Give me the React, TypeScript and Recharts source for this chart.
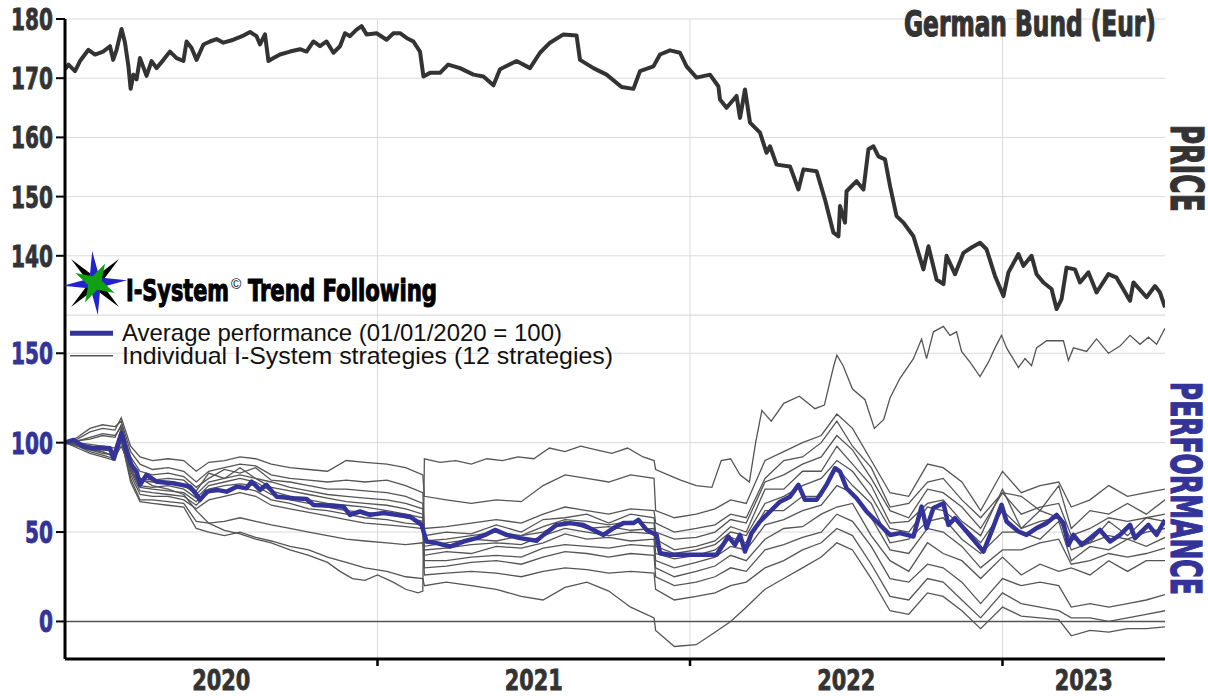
import React from 'react';
import { LineChart, Line, XAxis, YAxis, CartesianGrid, ReferenceLine } from 'recharts';

// ---------- DATA ----------
// German Bund price: [date as decimal year, price]
const priceSeries: [number, number][] = [
  [2020.000, 171.5], [2020.011, 172.3], [2020.032, 171.2], [2020.048, 172.9], [2020.075, 174.8],
  [2020.096, 174.0], [2020.122, 174.5], [2020.144, 175.4], [2020.154, 173.1], [2020.165, 174.8],
  [2020.181, 178.3], [2020.192, 176.0], [2020.203, 172.0], [2020.210, 168.2], [2020.219, 170.6],
  [2020.229, 169.8], [2020.240, 173.4], [2020.261, 170.4], [2020.277, 172.9], [2020.293, 171.7],
  [2020.315, 173.1], [2020.336, 174.5], [2020.357, 173.4], [2020.379, 172.9], [2020.389, 176.2],
  [2020.405, 175.1], [2020.421, 173.1], [2020.443, 175.7], [2020.464, 176.2], [2020.485, 176.6],
  [2020.507, 176.0], [2020.539, 176.5], [2020.571, 177.2], [2020.592, 177.8], [2020.613, 177.1],
  [2020.624, 175.7], [2020.640, 177.4], [2020.651, 172.9], [2020.667, 173.4], [2020.688, 174.0],
  [2020.720, 174.5], [2020.752, 174.9], [2020.773, 174.5], [2020.795, 176.2], [2020.816, 175.4],
  [2020.837, 176.2], [2020.859, 174.3], [2020.880, 175.4], [2020.896, 177.6], [2020.912, 177.1],
  [2020.933, 178.2], [2020.949, 178.8], [2020.965, 177.4], [2020.997, 177.6], [2021.029, 176.5],
  [2021.051, 177.6], [2021.072, 177.6], [2021.093, 176.8], [2021.115, 176.2], [2021.136, 174.5],
  [2021.147, 170.3], [2021.168, 170.9], [2021.200, 170.9], [2021.226, 172.3], [2021.264, 171.7],
  [2021.307, 170.6], [2021.339, 170.3], [2021.371, 168.8], [2021.392, 171.5], [2021.445, 172.9],
  [2021.488, 171.7], [2021.520, 174.3], [2021.552, 176.0], [2021.595, 177.4], [2021.637, 177.2],
  [2021.648, 173.1], [2021.691, 171.7], [2021.733, 170.6], [2021.781, 168.5], [2021.819, 168.2],
  [2021.840, 171.2], [2021.883, 172.0], [2021.904, 174.0], [2021.936, 174.7], [2021.968, 174.3],
  [2021.989, 172.0], [2022.021, 170.1], [2022.064, 170.6], [2022.091, 168.6], [2022.096, 166.4],
  [2022.117, 165.0], [2022.149, 167.0], [2022.160, 163.3], [2022.176, 168.1], [2022.192, 162.5],
  [2022.224, 160.8], [2022.245, 157.4], [2022.256, 158.5], [2022.277, 155.4], [2022.320, 155.1],
  [2022.347, 151.2], [2022.363, 154.6], [2022.405, 154.3], [2022.432, 149.5], [2022.459, 143.9],
  [2022.475, 143.3], [2022.480, 148.4], [2022.496, 145.6], [2022.501, 150.9], [2022.533, 152.6],
  [2022.555, 151.2], [2022.571, 158.0], [2022.587, 158.5], [2022.603, 156.8], [2022.624, 156.3],
  [2022.640, 151.8], [2022.661, 146.7], [2022.683, 145.6], [2022.715, 143.3], [2022.747, 137.7],
  [2022.763, 141.6], [2022.789, 136.0], [2022.811, 135.2], [2022.821, 140.0], [2022.848, 136.9],
  [2022.875, 140.5], [2022.901, 141.4], [2022.928, 142.2], [2022.949, 141.1], [2022.976, 136.6],
  [2023.003, 133.2], [2023.019, 137.2], [2023.051, 140.3], [2023.067, 138.3], [2023.093, 140.0],
  [2023.109, 136.9], [2023.131, 135.5], [2023.157, 134.4], [2023.173, 131.0], [2023.189, 132.7],
  [2023.205, 138.0], [2023.232, 137.7], [2023.248, 135.5], [2023.275, 137.2], [2023.301, 133.8],
  [2023.339, 136.9], [2023.365, 136.3], [2023.408, 132.4], [2023.419, 135.5], [2023.461, 133.0],
  [2023.488, 134.9], [2023.504, 133.8], [2023.520, 131.3],
];

// Average performance (01/01/2020 = 100)
const averagePerformance: [number, number][] = [
  [2020.000, 100], [2020.027, 101.5], [2020.059, 97.8], [2020.091, 96.9], [2020.123, 97.2],
  [2020.144, 96.9], [2020.155, 91.3], [2020.171, 99.7], [2020.181, 105.3], [2020.197, 95.0],
  [2020.213, 87.5], [2020.229, 83.8], [2020.240, 76.4], [2020.261, 82.0], [2020.293, 78.2],
  [2020.347, 77.3], [2020.400, 75.4], [2020.421, 70.8], [2020.432, 68.0], [2020.453, 72.6],
  [2020.485, 73.6], [2020.517, 72.6], [2020.549, 75.4], [2020.581, 74.5], [2020.597, 78.2],
  [2020.624, 73.6], [2020.645, 76.4], [2020.677, 69.8], [2020.731, 68.9], [2020.773, 68.5],
  [2020.795, 65.2], [2020.837, 64.8], [2020.891, 64.2], [2020.912, 59.6], [2020.944, 61.5],
  [2020.976, 59.6], [2021.019, 60.6], [2021.061, 59.6], [2021.104, 58.7], [2021.141, 54.0],
  [2021.157, 44.7], [2021.189, 43.8], [2021.232, 41.9], [2021.275, 44.7], [2021.317, 46.6],
  [2021.344, 48.4], [2021.376, 51.2], [2021.413, 48.4], [2021.456, 46.6], [2021.509, 45.1],
  [2021.531, 48.4], [2021.573, 54.0], [2021.616, 55.0], [2021.659, 54.0], [2021.691, 51.2],
  [2021.723, 48.4], [2021.755, 52.2], [2021.787, 55.0], [2021.819, 55.0], [2021.835, 56.8],
  [2021.861, 51.2], [2021.893, 48.4], [2021.904, 38.2], [2021.936, 37.3], [2022.085, 37.3],
  [2022.123, 47.5], [2022.144, 42.8], [2022.160, 48.4], [2022.176, 39.1], [2022.197, 49.4],
  [2022.224, 55.9], [2022.256, 61.5], [2022.288, 67.0], [2022.320, 69.8], [2022.347, 76.4],
  [2022.368, 68.0], [2022.405, 68.0], [2022.437, 76.4], [2022.464, 85.7], [2022.480, 83.8],
  [2022.501, 74.5], [2022.533, 68.9], [2022.565, 61.5], [2022.597, 55.9], [2022.640, 48.4],
  [2022.672, 49.4], [2022.715, 47.5], [2022.741, 64.2], [2022.757, 52.2], [2022.779, 63.4],
  [2022.811, 66.1], [2022.827, 54.0], [2022.848, 57.8], [2022.885, 50.3], [2022.939, 39.1],
  [2022.965, 50.3], [2022.997, 65.2], [2023.013, 55.9], [2023.051, 50.3], [2023.077, 48.4],
  [2023.109, 52.2], [2023.141, 55.0], [2023.173, 59.6], [2023.195, 55.0], [2023.211, 42.8],
  [2023.227, 48.4], [2023.253, 42.8], [2023.280, 46.6], [2023.312, 51.2], [2023.344, 44.7],
  [2023.376, 48.4], [2023.408, 54.0], [2023.424, 46.6], [2023.467, 54.0], [2023.493, 48.4],
  [2023.520, 56.8],
];

// Strategy 1 (the one that jumps in early 2021 and ends on top)
const strategy1: [number, number][] = [
  [2020.00, 100], [2020.04, 99], [2020.08, 96], [2020.12, 95], [2020.16, 92], [2020.18, 98],
  [2020.21, 86], [2020.24, 80], [2020.28, 76], [2020.33, 74], [2020.38, 71], [2020.42, 62],
  [2020.46, 55], [2020.51, 51], [2020.56, 49], [2020.61, 46], [2020.66, 44], [2020.72, 40],
  [2020.78, 37], [2020.84, 33], [2020.88, 28], [2020.92, 24], [2020.96, 23], [2021.00, 26],
  [2021.05, 22], [2021.09, 18], [2021.13, 16], [2021.145, 17], [2021.15, 91], [2021.20, 89],
  [2021.25, 90], [2021.30, 88], [2021.35, 91], [2021.40, 90], [2021.45, 92], [2021.50, 91],
  [2021.55, 97], [2021.60, 95], [2021.65, 98], [2021.70, 96], [2021.75, 94], [2021.80, 97],
  [2021.85, 92], [2021.885, 90], [2021.89, 85], [2021.93, 82], [2021.97, 79], [2022.02, 76],
  [2022.07, 75], [2022.10, 90], [2022.13, 91], [2022.16, 82], [2022.19, 78], [2022.21, 100],
  [2022.23, 118], [2022.26, 112], [2022.30, 122], [2022.35, 126], [2022.40, 119], [2022.43, 121],
  [2022.46, 143], [2022.47, 149], [2022.49, 143], [2022.52, 130], [2022.56, 124], [2022.59, 108],
  [2022.62, 113], [2022.64, 125], [2022.672, 136], [2022.715, 147], [2022.741, 158], [2022.757, 147],
  [2022.779, 162], [2022.811, 165], [2022.832, 160], [2022.853, 162], [2022.869, 151], [2022.896, 145],
  [2022.928, 137], [2022.955, 145], [2022.976, 153], [2022.997, 160], [2023.013, 153], [2023.051, 142],
  [2023.072, 147], [2023.093, 143], [2023.109, 153], [2023.141, 157], [2023.195, 157], [2023.211, 146],
  [2023.227, 153], [2023.269, 151], [2023.301, 158], [2023.339, 150], [2023.376, 154], [2023.408, 160],
  [2023.440, 155], [2023.467, 159], [2023.493, 155], [2023.520, 164],
];

// Shared dates for strategies 2..12
const stratDates = [
  2020.00, 2020.04, 2020.08, 2020.12, 2020.16, 2020.18, 2020.21, 2020.24, 2020.28, 2020.33,
  2020.38, 2020.42, 2020.46, 2020.51, 2020.56, 2020.61, 2020.66, 2020.72, 2020.78, 2020.84,
  2020.90, 2020.96, 2021.03, 2021.09, 2021.145, 2021.15, 2021.22, 2021.30, 2021.38, 2021.46,
  2021.53, 2021.60, 2021.67, 2021.74, 2021.81, 2021.885, 2021.89, 2021.95, 2022.02, 2022.08,
  2022.13, 2022.18, 2022.24, 2022.30, 2022.36, 2022.42, 2022.47, 2022.52, 2022.58, 2022.64,
  2022.70, 2022.76, 2022.81, 2022.87, 2022.93, 2023.00, 2023.06, 2023.12, 2023.18, 2023.22,
  2023.28, 2023.34, 2023.40, 2023.46, 2023.52,
];
const strategy2 = [100, 102, 106, 108, 107, 114, 98, 92, 90, 91, 90, 84, 89, 90, 92, 91, 88, 86, 85, 84, 90, 89, 88, 86, 82, 70, 68, 66, 68, 67, 76, 82, 80, 78, 82, 80, 62, 58, 60, 63, 68, 66, 90, 95, 100, 104, 116, 108, 90, 72, 70, 88, 86, 78, 62, 84, 72, 76, 78, 64, 68, 76, 70, 72, 74];
const strategy3 = [100, 103, 108, 110, 109, 112, 95, 88, 85, 86, 84, 78, 84, 86, 88, 87, 82, 80, 79, 78, 79, 78, 79, 76, 72, 52, 53, 55, 57, 55, 60, 64, 62, 60, 63, 62, 55, 50, 52, 54, 60, 58, 80, 90, 92, 100, 112, 98, 86, 64, 66, 78, 80, 68, 58, 72, 70, 62, 76, 52, 62, 60, 66, 60, 68];
const strategy4 = [100, 101, 102, 104, 103, 110, 92, 84, 82, 83, 81, 75, 80, 85, 83, 86, 79, 78, 76, 74, 74, 73, 72, 70, 66, 48, 50, 49, 54, 50, 57, 58, 60, 55, 60, 58, 50, 46, 47, 50, 57, 55, 78, 82, 88, 92, 104, 96, 80, 62, 58, 74, 72, 64, 52, 72, 60, 64, 66, 48, 52, 58, 56, 58, 60];
const strategy5 = [100, 100, 99, 98, 97, 108, 90, 80, 79, 80, 79, 73, 83, 80, 86, 80, 78, 75, 73, 71, 70, 69, 68, 66, 63, 45, 46, 48, 50, 48, 53, 57, 56, 54, 56, 55, 46, 40, 42, 45, 53, 50, 74, 74, 84, 84, 98, 88, 76, 55, 56, 66, 68, 56, 48, 74, 52, 62, 58, 46, 44, 56, 48, 58, 56];
const strategy6 = [100, 101, 103, 105, 104, 109, 88, 79, 78, 77, 76, 71, 78, 80, 82, 80, 75, 73, 71, 69, 67, 66, 65, 63, 60, 42, 44, 46, 45, 48, 50, 56, 52, 53, 51, 52, 42, 38, 40, 43, 50, 48, 66, 70, 76, 80, 90, 84, 70, 52, 50, 64, 62, 54, 44, 62, 52, 56, 58, 40, 44, 48, 46, 50, 52];
const strategy7 = [100, 99, 97, 96, 95, 106, 86, 76, 75, 76, 74, 69, 76, 78, 80, 78, 73, 70, 68, 66, 65, 64, 62, 60, 58, 40, 41, 43, 44, 43, 48, 52, 50, 48, 50, 49, 38, 35, 37, 40, 47, 44, 62, 62, 70, 70, 86, 76, 66, 44, 46, 56, 58, 46, 38, 50, 50, 46, 56, 34, 42, 40, 46, 42, 47];
const strategy8 = [100, 100, 98, 97, 95, 105, 85, 75, 74, 73, 72, 67, 74, 76, 77, 76, 71, 68, 66, 64, 62, 61, 60, 58, 56, 37, 39, 38, 42, 41, 44, 49, 46, 47, 45, 46, 34, 30, 33, 36, 42, 40, 54, 57, 62, 65, 76, 72, 58, 40, 38, 52, 50, 42, 30, 40, 40, 44, 46, 32, 34, 38, 36, 38, 41];
const strategy9 = [100, 98, 96, 94, 93, 104, 84, 73, 72, 71, 70, 65, 72, 73, 75, 73, 68, 66, 63, 62, 60, 58, 57, 55, 54, 34, 34, 36, 37, 36, 41, 43, 42, 41, 43, 42, 30, 25, 28, 31, 37, 34, 46, 52, 53, 60, 64, 66, 48, 34, 28, 44, 38, 34, 24, 36, 26, 32, 28, 30, 26, 34, 28, 34, 34];
const strategy10 = [100, 99, 97, 95, 92, 103, 82, 71, 70, 70, 68, 63, 68, 70, 72, 70, 65, 63, 61, 59, 57, 55, 54, 53, 52, 30, 31, 33, 34, 32, 36, 39, 38, 36, 38, 37, 25, 20, 22, 25, 30, 28, 40, 43, 47, 50, 60, 56, 42, 24, 22, 32, 30, 22, 10, 24, 20, 22, 20, 8, 10, 8, 10, 12, 15];
const strategy11 = [100, 97, 94, 92, 90, 101, 80, 68, 68, 67, 66, 56, 55, 56, 58, 56, 54, 52, 50, 48, 46, 45, 44, 43, 44, 26, 27, 28, 27, 25, 28, 30, 29, 27, 28, 27, 18, 12, 14, 16, 20, 22, 30, 34, 40, 44, 52, 48, 32, 14, 12, 24, 22, 12, 2, 16, 10, 8, 6, 2, 2, 0, 2, 4, 6];
const strategy12 = [100, 98, 95, 93, 91, 102, 78, 67, 66, 65, 64, 52, 50, 48, 50, 47, 45, 42, 40, 36, 33, 30, 28, 25, 24, 20, 22, 20, 18, 14, 12, 19, 22, 17, 8, 2, -5, -14, -13, -6, 0, 8, 18, 24, 30, 36, 44, 40, 24, 6, 4, 16, 14, 6, -4, 8, 3, 2, 1, -8, -5, -6, -4, -4, -3];

const priceTicks = [140, 150, 160, 170, 180];
const perfTicks = [0, 50, 100, 150];
const yearBoundaries = [2021, 2022, 2023];
const yearLabels = ['2020', '2021', '2022', '2023'];
const yearLabelDates = [2020.5, 2021.5, 2022.5, 2023.26];

// ---------- TABLES ----------
const priceData = priceSeries.map(([t, v]) => ({ t, price: v }));
const avgData = averagePerformance.map(([t, v]) => ({ t, v }));
const s1Data = strategy1.map(([t, v]) => ({ t, v }));
const bundle = [strategy2, strategy3, strategy4, strategy5, strategy6, strategy7, strategy8, strategy9, strategy10, strategy11, strategy12];
const stratTable = stratDates.map((t, i) => {
  const row: Record<string, number> = { t };
  bundle.forEach((s, k) => { row['s' + (k + 2)] = s[i]; });
  return row;
});
const bundleKeys = bundle.map((_, k) => 's' + (k + 2));
const xTicks = [...yearLabelDates, ...yearBoundaries].sort((a, b) => a - b);

// ---------- STYLE ----------
const X_DOMAIN: [number, number] = [2020, 2023.52];
const PRICE_DOMAIN: [number, number] = [130, 180];
const PERF_DOMAIN: [number, number] = [-21, 171.4];
const HEAVY = "'DejaVu Sans Condensed', 'Liberation Sans Narrow', 'Roboto', sans-serif";
const SANS = "'Liberation Sans', Arial, sans-serif";
const BLUE = '#333399';
const DARK = '#333333';
const GRID = '#dadada';

const AxisNumber = ({ x, y, value, color }: { x: number; y: number; value: number; color: string }) => {
  const s = String(value);
  return (
    <text x={x} y={y + 11} textAnchor="end" fill={color} stroke={color} strokeWidth={0.8}
      fontFamily={HEAVY} fontWeight={700} fontSize={30} textLength={s.length * 14}
      lengthAdjust="spacingAndGlyphs">{s}</text>
  );
};
const PriceTick = (props: any) => <AxisNumber x={props.x} y={props.y} value={props.payload.value} color={DARK} />;
const PerfTick = (props: any) => <AxisNumber x={props.x} y={props.y} value={props.payload.value} color={BLUE} />;
const YearTick = (props: any) => {
  const v = props.payload.value;
  if (yearBoundaries.includes(v)) {
    return <line x1={props.x} x2={props.x} y1={props.y - 7} y2={props.y} stroke="#000" strokeWidth={2.5} />;
  }
  const idx = yearLabelDates.indexOf(v);
  return (
    <text x={props.x} y={props.y + 24} textAnchor="middle" fill={DARK} stroke={DARK} strokeWidth={0.8}
      fontFamily={HEAVY} fontWeight={700} fontSize={29} textLength={58}
      lengthAdjust="spacingAndGlyphs">{yearLabels[idx]}</text>
  );
};

function starPoints(cx: number, cy: number, R: number, r: number, rot: number) {
  const pts: string[] = [];
  for (let i = 0; i < 8; i++) {
    const a = ((rot + i * 45) * Math.PI) / 180;
    const rad = i % 2 === 0 ? R : r;
    pts.push(`${(cx + rad * Math.cos(a)).toFixed(1)},${(cy + rad * Math.sin(a)).toFixed(1)}`);
  }
  return pts.join(' ');
}

export default function App() {
  return (
    <div style={{ position: 'absolute', left: 0, top: 0, width: 1208, height: 696, background: '#fff', overflow: 'hidden' }}>
      <div style={{ position: 'absolute', left: 0, top: 0 }}>
        <LineChart width={1208} height={316} data={priceData} margin={{ top: 19, right: 43, bottom: 1, left: 0 }}>
          <CartesianGrid vertical={false} stroke={GRID} />
          {yearBoundaries.map((b) => (
            <ReferenceLine key={b} x={b} stroke={GRID} strokeWidth={1} />
          ))}
          <XAxis type="number" dataKey="t" domain={X_DOMAIN} allowDataOverflow ticks={yearBoundaries}
            tick={false} tickLine={false} height={0} axisLine={{ stroke: '#000', strokeWidth: 3 }} />
          <YAxis type="number" domain={PRICE_DOMAIN} allowDataOverflow ticks={priceTicks} interval={0}
            width={65} tickSize={9} tickMargin={3} tick={<PriceTick />}
            tickLine={{ stroke: '#000', strokeWidth: 2 }} axisLine={{ stroke: '#000', strokeWidth: 3 }} />
          <Line type="linear" dataKey="price" stroke={DARK} strokeWidth={4} dot={false}
            strokeLinejoin="round" isAnimationActive={false} />
        </LineChart>
      </div>
      <div style={{ position: 'absolute', left: 0, top: 315 }}>
        <LineChart width={1208} height={381} data={stratTable} margin={{ top: 0, right: 43, bottom: 0, left: 0 }}>
          <CartesianGrid vertical={false} stroke={GRID} />
          {yearBoundaries.map((b) => (
            <ReferenceLine key={b} x={b} stroke={GRID} strokeWidth={1} />
          ))}
          <ReferenceLine y={0} stroke="#555" strokeWidth={1.5} />
          <XAxis type="number" dataKey="t" domain={X_DOMAIN} allowDataOverflow ticks={xTicks} interval={0}
            tick={<YearTick />} tickLine={false} tickSize={7} tickMargin={0} height={37}
            axisLine={{ stroke: '#000', strokeWidth: 3 }} />
          <YAxis type="number" domain={PERF_DOMAIN} allowDataOverflow ticks={perfTicks} interval={0}
            width={65} tickSize={9} tickMargin={3} tick={<PerfTick />}
            tickLine={{ stroke: '#000', strokeWidth: 2 }} axisLine={{ stroke: '#000', strokeWidth: 3 }} />
          {bundleKeys.map((k) => (
            <Line key={k} type="linear" dataKey={k} stroke="#555" strokeWidth={1.3} dot={false}
              isAnimationActive={false} />
          ))}
          <Line type="linear" data={s1Data} dataKey="v" stroke="#555" strokeWidth={1.3} dot={false}
            isAnimationActive={false} />
          <Line type="linear" data={avgData} dataKey="v" stroke={BLUE} strokeWidth={4.5} dot={false}
            strokeLinejoin="round" isAnimationActive={false} />
        </LineChart>
      </div>
      <svg width={1208} height={696} style={{ position: 'absolute', left: 0, top: 0, pointerEvents: 'none' }}>
        <text x={1156} y={36} textAnchor="end" fontFamily={HEAVY} fontWeight={700} fontSize={36}
          fill={DARK} stroke={DARK} strokeWidth={1.2} textLength={252} lengthAdjust="spacingAndGlyphs">German Bund (Eur)</text>
        <text x={1187} y={184.3} textAnchor="middle" transform="rotate(90 1187 168.3)" fontFamily={HEAVY}
          fontWeight={700} fontSize={44} fill={DARK} stroke={DARK} strokeWidth={1.2}
          textLength={87} lengthAdjust="spacingAndGlyphs">PRICE</text>
        <text x={1185.5} y={503.3} textAnchor="middle" transform="rotate(90 1185.5 488.3)" fontFamily={HEAVY}
          fontWeight={700} fontSize={42} fill={BLUE} stroke={BLUE} strokeWidth={1.2}
          textLength={213} lengthAdjust="spacingAndGlyphs">PERFORMANCE</text>

        <polygon points={starPoints(95, 283, 34, 6, 45)} fill="#000" />
        <polygon points={starPoints(95, 283, 32, 7, -5)} fill="#2323cc" />
        <polygon points={starPoints(95, 283, 22, 7, 27)} fill="#11a011" />
        <text x={126} y={301} fontFamily={HEAVY} fontWeight={700} fontSize={31} fill="#000" stroke="#000"
          strokeWidth={1.1} textLength={103} lengthAdjust="spacingAndGlyphs">I-System</text>
        <text x={231} y={289} fontFamily={SANS} fontSize={14} fill="#000">©</text>
        <text x={248} y={301} fontFamily={HEAVY} fontWeight={700} fontSize={31} fill="#000" stroke="#000"
          strokeWidth={1.1} textLength={189} lengthAdjust="spacingAndGlyphs">Trend Following</text>

        <line x1={70} x2={113} y1={333.3} y2={333.3} stroke={BLUE} strokeWidth={5} />
        <text x={122} y={341} fontFamily={SANS} fontSize={24} fill="#111" textLength={440}
          lengthAdjust="spacingAndGlyphs">Average performance (01/01/2020 = 100)</text>
        <line x1={70} x2={113} y1={355.7} y2={355.7} stroke="#555" strokeWidth={1.5} />
        <text x={122} y={364} fontFamily={SANS} fontSize={24} fill="#111" textLength={491}
          lengthAdjust="spacingAndGlyphs">Individual I-System strategies (12 strategies)</text>
      </svg>
    </div>
  );
}
